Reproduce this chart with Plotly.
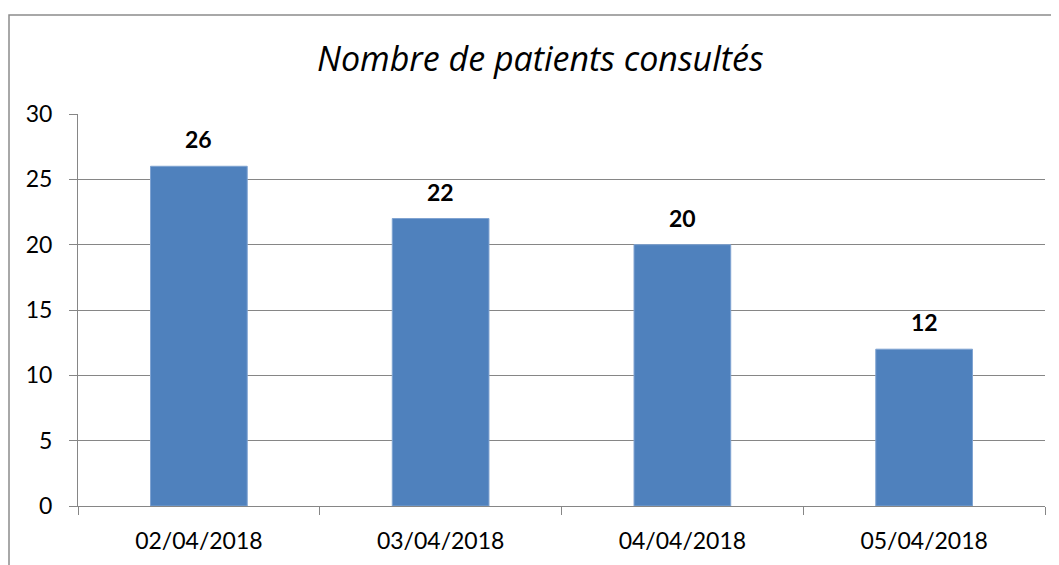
import plotly.graph_objects as go

categories = ["02/04/2018", "03/04/2018", "04/04/2018", "05/04/2018"]
values = [26, 22, 20, 12]
y_ticks = [0, 5, 10, 15, 20, 25, 30]
title_text = "Nombre de patients consultés"

# page offset (default body margin) compensation
OFF = 8
W, H = 1059, 565
# desired plot area in page pixels
PL, PR, PT, PB = 78, 1045, 114, 506
L = PL - OFF
T = PT - OFF
R = W - (PR - OFF)
B = H - (PB - OFF)
pw, ph = PR - PL, PB - PT

def px(xp):
    return (xp - PL) / pw

def py(yp):
    return (PB - yp) / ph

fig = go.Figure()
fig.add_trace(go.Bar(
    x=categories, y=values, width=0.4,
    marker=dict(color="#4F81BD", line=dict(color="#7FA3D1", width=1)),
    hoverinfo="skip",
))

for c, v in zip(categories, values):
    fig.add_annotation(x=c, y=v, text="<b>%d</b>" % v, showarrow=False,
                       yanchor="bottom", yshift=11,
                       font=dict(family="Lato", size=23, color="black"))

# title
fig.add_annotation(xref="paper", yref="paper", x=px(540), y=py(58),
                   text="<i>%s</i>" % title_text, showarrow=False,
                   xanchor="center", yanchor="middle",
                   font=dict(family="Open Sans", size=34, color="black"))

# chart area border
fig.add_shape(type="rect", xref="paper", yref="paper",
              x0=px(9), x1=1.2, y0=-0.5, y1=py(15),
              line=dict(color="#8C8C8C", width=1.5), fillcolor="rgba(0,0,0,0)", layer="below")

fig.update_layout(
    width=W, height=H, margin=dict(l=L, r=R, t=T, b=B),
    paper_bgcolor="white", plot_bgcolor="white", showlegend=False,
    font=dict(family="Lato", size=23, color="black"),
)
fig.update_xaxes(type="category", tickson="boundaries", ticks="outside", ticklen=8,
                 tickcolor="#868686", showline=True, linecolor="#868686", linewidth=1,
                 showgrid=False, tickfont=dict(family="Lato", size=23, color="black"),
                 ticklabelstandoff=14)
fig.update_yaxes(range=[0, 30], tickvals=y_ticks, ticks="outside", ticklen=8,
                 tickcolor="#868686", showline=True, linecolor="#868686", linewidth=1,
                 showgrid=True, gridcolor="#868686", gridwidth=1, zeroline=False,
                 tickfont=dict(family="Lato", size=23, color="black"),
                 ticklabelstandoff=12)

fig.write_html("out.html")
